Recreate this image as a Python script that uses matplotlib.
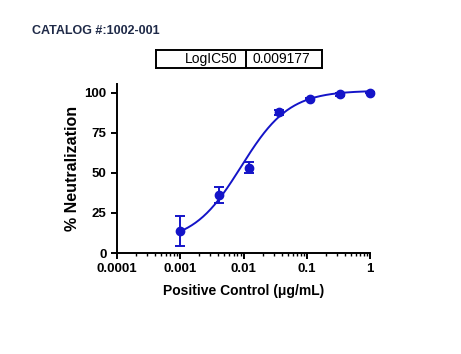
import numpy as np
import matplotlib
matplotlib.use("Agg")
import matplotlib.pyplot as plt
from matplotlib.ticker import LogLocator, FixedLocator, NullFormatter

# data
conc = [0.001, 0.0041, 0.0123, 0.037, 0.111, 0.333, 1.0]
neut = [13.8, 36.3, 53.4, 87.8, 96.3, 99.1, 100.2]
err = [9.5, 5.0, 3.5, 1.8, 0.8, 0.7, 0.5]
# fitted 4PL parameters
ic50 = 0.009177
top, bottom, hill = 101.5, 6.5, 1.14
xticks = [0.0001, 0.001, 0.01, 0.1, 1]
xticklabels = ["0.0001", "0.001", "0.01", "0.1", "1"]
yticks = [0, 25, 50, 75, 100]

blue = "#1414c8"
font = "Liberation Sans"

fig = plt.figure(figsize=(4.61, 3.54), dpi=100)
ax = fig.add_axes([0.2538, 0.2853, 0.8026 - 0.2538, 0.7627 - 0.2853])

xf = np.logspace(np.log10(conc[0]), np.log10(conc[-1]), 200)
yf = bottom + (top - bottom) / (1 + (ic50 / xf) ** hill)
ax.plot(xf, yf, color=blue, lw=1.4, zorder=2, clip_on=False)
eb = ax.errorbar(conc, neut, yerr=err, fmt="o", color=blue, ms=6, capsize=3.5,
                 elinewidth=1.4, capthick=1.4, zorder=3)
for art in eb.lines[0:1] + tuple(eb.lines[1]) + tuple(eb.lines[2]):
    art.set_clip_on(False)

ax.set_xscale("log")
ax.set_xlim(1e-4, 1)
ax.set_ylim(0, 105.6)
ax.xaxis.set_major_locator(FixedLocator(xticks))
ax.set_xticklabels(xticklabels)
ax.xaxis.set_minor_locator(LogLocator(base=10, subs=np.arange(2, 10)))
ax.xaxis.set_minor_formatter(NullFormatter())
ax.set_yticks(yticks)
for s in ["top", "right"]:
    ax.spines[s].set_visible(False)
for s in ["left", "bottom"]:
    ax.spines[s].set_linewidth(1.4)
ax.tick_params(axis="both", which="major", length=4, width=1.4, direction="out")
ax.tick_params(axis="x", which="minor", length=2.5, width=1.0, direction="out")
for lab in ax.get_xticklabels() + ax.get_yticklabels():
    lab.set_fontfamily(font)
    lab.set_fontweight("bold")
    lab.set_fontsize(9.5)
ax.set_xlabel("Positive Control (μg/mL)", fontfamily=font, fontweight="bold",
              fontsize=10, labelpad=6)
ax.set_ylabel("% Neutralization", fontfamily=font, fontweight="bold",
              fontsize=11.5, labelpad=3)

fig.text(32 / 461, 1 - 31 / 354, "CATALOG #:1002-001", fontfamily=font,
         fontweight="bold", fontsize=9, color="#1f2a48", va="center", ha="left")

# table box
tb = fig.add_axes([156 / 461, 1 - 68 / 354, (322 - 156) / 461, 18 / 354])
tb.set_xlim(156, 322)
tb.set_ylim(0, 18)
tb.set_xticks([])
tb.set_yticks([])
for s in tb.spines.values():
    s.set_linewidth(1.4)
tb.axvline(246, color="black", lw=1.4)
tb.text(237, 9, "LogIC50", ha="right", va="center", fontfamily=font, fontsize=10)
tb.text(252, 9, f"{ic50}", ha="left", va="center", fontfamily=font, fontsize=10)

fig.savefig("out.png", dpi=100)
